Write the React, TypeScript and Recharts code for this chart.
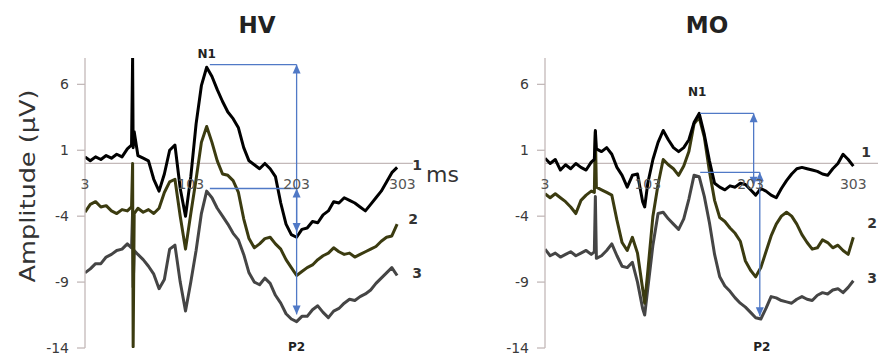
import React from "react";
import { LineChart, Line, XAxis, YAxis, ReferenceLine, ReferenceDot } from "recharts";

const font = "'DejaVu Sans', 'Liberation Sans', Arial, sans-serif";

const yTicks = [6, 1, -4, -9, -14];
const xTicks = [3, 103, 203, 303];
const traceNames = ["1", "2", "3"];
const traceColors = ["#000000", "#3b3b10", "#454545"];
const arrowBlue = "#5079c6";
const axisGrey = "#c3b9b9";

// HV (ms, µV)
const hvTime = [
  3, 8, 13, 18, 23, 28, 33, 38, 43, 47, 48, 48.5, 49.5,
  53, 58, 63, 68, 73, 78, 83, 88, 93, 98,
  103, 108, 113, 118, 123, 128, 133, 138, 143, 148,
  153, 158, 163, 168, 173, 178, 183, 188, 193, 198,
  203, 208, 213, 218, 223, 228, 233, 238, 243, 248,
  253, 258, 263, 268, 273, 278, 283, 288, 293, 298,
];
const hvTrace1 = [
  0.5, 0.2, 0.5, 0.3, 0.6, 0.4, 0.7, 0.5, 1.1, 1.4, 8, 1.2, 2.4,
  0.6, 0.4, 0.2, -1.2, -2.1, -0.8, 1.0, 1.4, -1.9, -4.0,
  -1.0, 3.0, 5.9, 7.3, 6.6, 5.6, 4.7, 3.9, 3.4, 2.7,
  1.2, 0.2, -0.1, -0.4, 0.0, -0.4, -1.0, -3.0, -4.6, -5.4,
  -5.6, -5.0, -4.9, -4.4, -4.5, -3.9, -3.6, -2.9, -3.0, -2.6,
  -2.8, -3.0, -3.3, -3.6, -3.1, -2.6, -2.1, -1.4, -0.7, -0.3,
];
const hvTrace2 = [
  -3.7, -3.1, -2.9, -3.3, -3.2, -3.6, -3.8, -3.5, -3.6, -3.3, 0.0, -13.9, -3.8,
  -3.4, -3.7, -3.5, -3.8, -3.4, -2.2, -1.4, -1.2, -4.0, -6.5,
  -3.8, -1.2, 1.6, 2.8, 1.6, 0.2, -0.8, -0.9, -1.3, -2.2,
  -4.2, -5.7, -6.4, -6.1, -5.7, -5.6, -6.1, -6.5, -7.3, -7.9,
  -8.5, -8.2, -7.9, -7.7, -7.3, -7.0, -6.8, -6.4, -6.7, -6.9,
  -6.8, -7.1, -6.9, -6.7, -6.5, -6.3, -5.9, -5.6, -5.5, -4.6,
];
const hvTrace3 = [
  -8.3, -8.0, -7.6, -7.6, -7.1, -6.9, -6.6, -6.5, -6.1, -6.4, -3.6, -9.4, -6.6,
  -6.9, -7.3, -7.8, -8.4, -9.5, -8.8, -6.5, -6.2, -9.0, -11.2,
  -9.0, -6.6, -3.8, -2.1, -2.6, -3.4, -4.0, -4.6, -5.3, -5.8,
  -6.9, -8.3, -9.0, -9.2, -8.7, -9.1, -10.0, -10.6, -11.4, -11.8,
  -12.0, -11.6, -11.6, -11.1, -10.8, -11.3, -11.7, -11.2, -11.0, -10.6,
  -10.3, -10.4, -10.1, -9.9, -9.6, -9.1, -8.7, -8.3, -7.9, -8.5,
];

// MO (ms, µV)
const moTime = [
  3, 8, 13, 18, 23, 28, 33, 38, 43, 48, 51, 52,
  53, 58, 63, 68, 73, 78, 83, 88, 93, 98, 100,
  103, 108, 113, 118, 123, 128, 133, 138, 143, 148,
  153, 158, 163, 168, 173, 178, 183, 188, 193, 198,
  203, 208, 213, 218, 223, 228, 233, 238, 243, 248,
  253, 258, 263, 268, 273, 278, 283, 288, 293, 298, 303,
];
const moTrace1 = [
  0.4, 0.0, 0.3, -0.5, -0.1, -0.4, 0.0, -0.3, -0.5, 0.1, 0.3, 2.5,
  1.1, 0.9, 1.2, 0.7, -0.3, -0.9, -1.8, -0.9, -0.8, -2.9, -3.3,
  -1.5, 0.3, 1.6, 2.5, 1.8, 1.2, 0.9, 1.2, 1.8, 3.1,
  3.8, 2.2, 0.2, -1.5, -1.8, -2.0, -1.7, -1.8, -1.5, -1.6,
  -2.0, -2.4, -1.9, -2.1, -2.4, -2.6, -1.9, -1.3, -0.8, -0.4,
  -0.3, -0.4, -0.5, -0.6, -0.8, -0.9, -0.4, 0.0, 0.7, 0.3, -0.2,
];
const moTrace2 = [
  -2.3, -2.6, -2.3, -2.6, -2.9, -3.3, -3.8, -2.8, -2.4, -2.1, -2.2, 2.4,
  -1.8, -2.0, -2.2, -2.4, -4.3, -6.0, -6.6, -5.6, -6.8, -9.5, -10.6,
  -8.2, -4.0, -1.6, 0.3, -0.1, -0.4, -0.9, -0.2, 0.9, 3.0,
  3.5, 2.0, -0.6, -2.8, -4.1, -4.4, -4.9, -5.3, -5.9, -7.4,
  -8.1, -8.6, -7.9, -6.7, -5.5, -4.6, -4.0, -3.7, -4.0, -4.6,
  -5.4, -6.0, -6.5, -6.4, -5.8, -6.0, -6.4, -6.2, -6.6, -6.9, -5.6,
];
const moTrace3 = [
  -6.5, -7.0, -6.8, -7.1, -6.9, -6.7, -7.0, -6.8, -6.6, -6.9, -6.7, -2.5,
  -7.2, -7.0, -6.6, -6.1, -7.0, -7.8, -7.9, -7.5, -9.0, -11.0, -11.5,
  -9.5, -6.2, -3.8, -3.7, -4.2, -4.6, -5.0, -4.2, -2.7, -0.9,
  -1.0, -2.5, -4.5, -6.9, -8.6, -9.3, -9.7, -10.2, -10.6, -10.9,
  -11.3, -11.7, -11.8, -11.0, -10.1, -10.2, -10.4, -10.5, -10.6, -10.3,
  -10.1, -10.3, -10.4, -10.0, -9.8, -9.9, -9.6, -9.5, -9.8, -9.4, -8.9,
];

// N1 / P2 measurement arrows: [t, µV] end points
const hvArrows = [
  { from: [121, 7.5], to: [203, 7.5], heads: false },
  { from: [203, 7.5], to: [203, -5.2], heads: true },
  { from: [121, -1.9], to: [203, -1.9], heads: false },
  { from: [203, -1.9], to: [203, -11.45], heads: true },
];
const moArrows = [
  { from: [154, 3.8], to: [206, 3.8], heads: false },
  { from: [206, 3.8], to: [206, -1.7], heads: true },
  { from: [154, -0.67], to: [212, -0.67], heads: false },
  { from: [212, -0.67], to: [212, -11.6], heads: true },
];

const makeArrow = (heads: boolean) => (p: any) => {
  const { x1, y1, x2, y2 } = p;
  const len = Math.hypot(x2 - x1, y2 - y1) || 1;
  const ux = (x2 - x1) / len;
  const uy = (y2 - y1) / len;
  const tri = (tx: number, ty: number, dx: number, dy: number) => {
    const bx = tx - dx * 9;
    const by = ty - dy * 9;
    return `${tx},${ty} ${bx - dy * 4},${by + dx * 4} ${bx + dy * 4},${by - dx * 4}`;
  };
  return (
    <g>
      <line x1={x1} y1={y1} x2={x2} y2={y2} stroke={arrowBlue} strokeWidth={1.3} />
      {heads && <polygon points={tri(x1, y1, -ux, -uy)} fill={arrowBlue} />}
      {heads && <polygon points={tri(x2, y2, ux, uy)} fill={arrowBlue} />}
    </g>
  );
};

const textAt = (text: string, dx: number, dy: number, style: any) => (p: any) => {
  const vb = p.viewBox || {};
  return (
    <text x={(vb.x ?? 0) + dx} y={(vb.y ?? 0) + dy} fontFamily={font} {...style}>
      {text}
    </text>
  );
};

type PanelProps = {
  time: number[];
  traces: number[][];
  xEnd: number;
  arrows: { from: number[]; to: number[]; heads: boolean }[];
  n1: number[];
  p2: number[];
  n1Offset: number[];
  p2Offset: number[];
  endOffsets: number[][];
  left: number;
  width: number;
  marginLeft: number;
  marginRight: number;
};

function Panel(props: PanelProps) {
  const { time, traces, xEnd, arrows, n1, p2, left, width } = props;
  const rows = time.map((t, i) => ({ t, s1: traces[0][i], s2: traces[1][i], s3: traces[2][i] }));
  const last = time.length - 1;
  const bold = { fontWeight: "bold", fontSize: 12, fill: "#222", textAnchor: "middle" };
  return (
    <div style={{ position: "absolute", left, top: 0 }}>
      <LineChart
        width={width}
        height={355}
        data={rows}
        margin={{ top: 58, right: props.marginRight, bottom: 7, left: props.marginLeft }}
      >
        <XAxis type="number" dataKey="t" domain={[3, xEnd]} hide allowDataOverflow />
        <YAxis
          type="number"
          domain={[-14, 8]}
          ticks={yTicks}
          interval={0}
          width={60}
          tickSize={8}
          tickMargin={8}
          axisLine={{ stroke: axisGrey, strokeWidth: 1.3 }}
          tickLine={{ stroke: axisGrey, strokeWidth: 1.3 }}
          tick={{ fill: "#3a3a3a", fontSize: 14, fontFamily: font }}
          allowDataOverflow
        />
        <ReferenceLine y={0} stroke={axisGrey} strokeWidth={1.3} />
        {[2, 1, 0].map((k) => (
          <Line
            key={k}
            dataKey={`s${k + 1}`}
            type="linear"
            stroke={traceColors[k]}
            strokeWidth={3}
            strokeLinejoin="round"
            dot={false}
            isAnimationActive={false}
          />
        ))}
        {xTicks.map((t) => (
          <ReferenceDot
            key={`xt${t}`}
            x={t}
            y={0}
            r={0}
            fill="none"
            stroke="none"
            label={textAt(String(t), 0, 26, { fontSize: 14, fill: "#555", textAnchor: "middle" })}
          />
        ))}
        {arrows.map((a, i) => (
          <ReferenceLine
            key={`ar${i}`}
            segment={[
              { x: a.from[0], y: a.from[1] },
              { x: a.to[0], y: a.to[1] },
            ]}
            shape={makeArrow(a.heads)}
          />
        ))}
        <ReferenceDot
          x={n1[0]}
          y={n1[1]}
          r={0}
          fill="none"
          stroke="none"
          label={textAt("N1", props.n1Offset[0], props.n1Offset[1], bold)}
        />
        <ReferenceDot
          x={p2[0]}
          y={p2[1]}
          r={0}
          fill="none"
          stroke="none"
          label={textAt("P2", props.p2Offset[0], props.p2Offset[1], bold)}
        />
        {traceNames.map((name, k) => (
          <ReferenceDot
            key={`nm${k}`}
            x={time[last]}
            y={traces[k][last]}
            r={0}
            fill="none"
            stroke="none"
            label={textAt(name, props.endOffsets[k][0], props.endOffsets[k][1], {
              fontSize: 14,
              fontWeight: "bold",
              fill: "#333",
            })}
          />
        ))}
      </LineChart>
    </div>
  );
}

export default function App() {
  return (
    <div style={{ position: "absolute", left: 0, top: 0, width: 878, height: 355, background: "#fff" }}>
      <Panel
        time={hvTime}
        traces={[hvTrace1, hvTrace2, hvTrace3]}
        xEnd={313}
        arrows={hvArrows}
        n1={[118, 7.3]}
        p2={[203, -14]}
        n1Offset={[0, -9]}
        p2Offset={[0, 3]}
        endOffsets={[[15, 3], [11, 0], [15, 2]]}
        left={0}
        width={440}
        marginLeft={25}
        marginRight={27}
      />
      <Panel
        time={moTime}
        traces={[moTrace1, moTrace2, moTrace3]}
        xEnd={327}
        arrows={moArrows}
        n1={[153, 3.8]}
        p2={[212, -14]}
        n1Offset={[-2, -17]}
        p2Offset={[2, 3]}
        endOffsets={[[8, -9], [14, -9], [14, 2]]}
        left={440}
        width={438}
        marginLeft={45}
        marginRight={0}
      />
      <svg width={878} height={355} style={{ position: "absolute", left: 0, top: 0, pointerEvents: "none" }}>
        <text x={257} y={33} textAnchor="middle" fontFamily={font} fontWeight="bold" fontSize={23} fill="#222">
          HV
        </text>
        <text x={707} y={33} textAnchor="middle" fontFamily={font} fontWeight="bold" fontSize={23} fill="#222">
          MO
        </text>
        <text x={426} y={182} fontFamily={font} fontSize={22} fill="#333">
          ms
        </text>
        <text
          x={0}
          y={0}
          transform="translate(35,186) rotate(-90)"
          textAnchor="middle"
          fontFamily={font}
          fontSize={21}
          fill="#333"
          textLength={193}
          lengthAdjust="spacingAndGlyphs"
        >
          Amplitude (µV)
        </text>
      </svg>
    </div>
  );
}
